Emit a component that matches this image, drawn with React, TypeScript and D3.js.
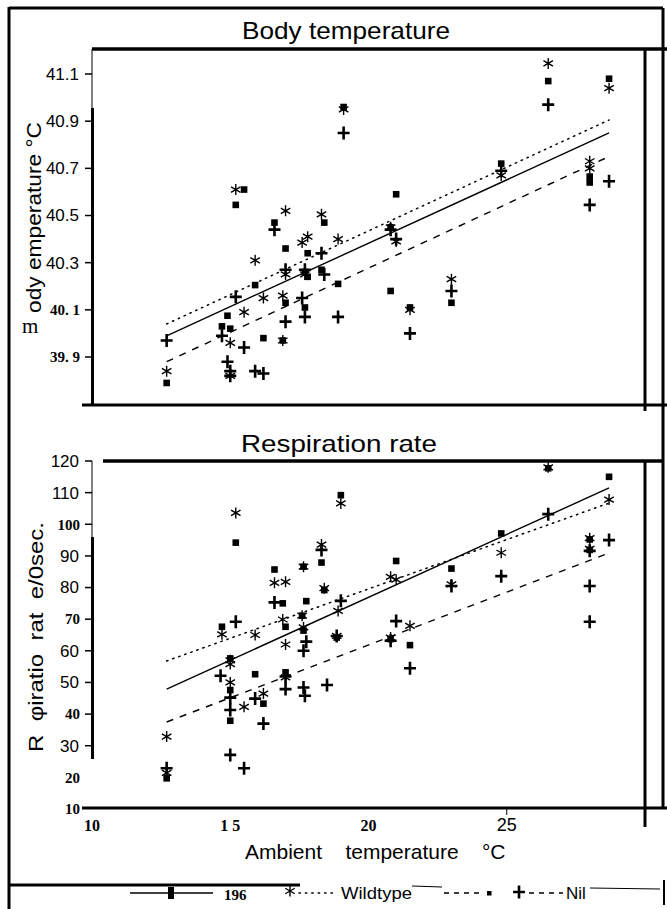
import React from "react";
import * as d3 from "d3";

const seriesNames = ["196", "Wildtype", "Nil"];

// body temperature (°C) against ambient temperature (°C)
const body196 = [
  [12.7, 39.79], [14.9, 40.075], [14.7, 40.03], [15.0, 40.02], [15.2, 40.545], [15.5, 40.61],
  [15.9, 40.205], [16.2, 39.98], [16.6, 40.47], [17.0, 40.36], [17.0, 40.13], [16.9, 39.97],
  [17.8, 40.34], [17.7, 40.26], [17.8, 40.24], [17.7, 40.11], [18.4, 40.47], [18.3, 40.27],
  [19.1, 40.96], [18.9, 40.21], [21.0, 40.59], [20.8, 40.45], [20.8, 40.18], [21.5, 40.11],
  [23.0, 40.13], [24.8, 40.72], [26.5, 41.07], [28.0, 40.665], [28.0, 40.64], [28.7, 41.08],
];
const bodyWildtype = [
  [12.7, 39.84], [15.0, 39.96], [15.0, 39.82], [15.2, 40.61], [15.5, 40.09], [15.9, 40.31],
  [16.2, 40.15], [17.0, 40.52], [17.0, 40.25], [16.9, 40.16], [16.9, 39.97], [17.6, 40.385],
  [17.8, 40.41], [17.7, 40.25], [18.3, 40.505], [18.9, 40.4], [19.1, 40.95], [20.8, 40.45],
  [21.0, 40.39], [21.5, 40.1], [23.0, 40.23], [24.8, 40.67], [26.5, 41.145], [28.0, 40.73],
  [28.0, 40.7], [28.7, 41.04],
];
const bodyNil = [
  [12.7, 39.97], [14.7, 39.99], [14.9, 39.88], [15.0, 39.84], [15.0, 39.82], [15.2, 40.155],
  [15.5, 39.94], [15.9, 39.84], [16.2, 39.83], [16.6, 40.44], [17.0, 40.27], [17.0, 40.05],
  [17.6, 40.15], [17.7, 40.27], [17.7, 40.07], [18.3, 40.34], [18.4, 40.25], [19.1, 40.85],
  [18.9, 40.07], [20.8, 40.44], [21.0, 40.4], [21.5, 40.0], [23.0, 40.18], [24.8, 40.69],
  [26.5, 40.97], [28.0, 40.545], [28.7, 40.645],
];

// respiration rate against ambient temperature
const resp196 = [
  [12.7, 19.7], [14.7, 67.6], [15.2, 94.2], [15.0, 57.6], [15.0, 47.6], [15.0, 37.9],
  [15.9, 52.6], [16.2, 43.3], [16.6, 85.7], [16.9, 75.0], [17.0, 67.6], [17.0, 53.2],
  [17.65, 86.6], [17.75, 75.7], [17.6, 71.1], [17.65, 66.4], [18.3, 87.9], [18.4, 79.2],
  [19.0, 109.2], [18.85, 64.2], [21.0, 88.4], [20.8, 63.7], [21.5, 61.8], [23.0, 86.0],
  [24.8, 97.1], [26.5, 117.7], [28.0, 95.2], [28.0, 91.9], [28.7, 115.0],
];
const respWildtype = [
  [12.7, 32.9], [12.7, 21.4], [14.7, 65.2], [15.2, 103.6], [15.0, 57.0], [15.0, 55.8],
  [15.0, 50.0], [15.5, 42.3], [15.9, 65.0], [16.2, 46.5], [16.6, 81.5], [17.0, 81.8],
  [16.9, 69.9], [17.0, 62.0], [17.0, 51.6], [17.65, 86.6], [17.6, 71.1], [17.65, 67.4],
  [18.3, 93.6], [18.4, 79.8], [19.0, 106.6], [18.9, 72.6], [18.85, 64.7], [20.8, 83.4],
  [21.0, 82.5], [21.5, 67.9], [20.8, 64.2], [23.0, 81.0], [24.8, 91.0], [26.5, 118.0],
  [28.0, 95.6], [28.0, 92.2], [28.7, 107.8],
];
const respNil = [
  [12.7, 22.9], [14.65, 52.1], [15.2, 69.2], [15.0, 45.2], [15.0, 41.3], [15.0, 27.1],
  [15.5, 22.9], [15.9, 44.9], [16.2, 37.0], [16.6, 75.3], [17.0, 51.9], [17.0, 47.9],
  [17.75, 62.9], [17.65, 60.0], [17.65, 48.4], [17.7, 45.8], [18.3, 91.9], [18.5, 49.2],
  [19.0, 75.8], [18.85, 64.7], [21.0, 69.4], [20.8, 63.2], [21.5, 54.5], [23.0, 80.5],
  [24.8, 83.6], [26.5, 103.2], [28.0, 91.6], [28.0, 80.5], [28.0, 69.2], [28.7, 95.0],
];

// fitted lines, end points
const bodyFit196 = [[12.7, 39.99], [28.7, 40.85]];
const bodyFitWildtype = [[12.7, 40.04], [28.7, 40.905]];
const bodyFitNil = [[12.7, 39.88], [28.7, 40.75]];
const respFit196 = [[12.7, 47.9], [28.7, 111.5]];
const respFitWildtype = [[12.7, 56.8], [28.7, 106.7]];
const respFitNil = [[12.7, 37.5], [28.7, 90.9]];

const bodyTicks = [41.1, 40.9, 40.7, 40.5, 40.3, 40.1, 39.9];
const bodyTickLabels = ["41.1", "40.9", "40.7", "40.5", "40.3", "40. 1", "39. 9"];
const respTicks = [120, 110, 100, 90, 80, 70, 60, 50, 40, 30, 20, 10];
const respTickLabels = ["120", "110", "100", "90", "80", "70", "60", "50", "40", "30", "20", "10"];
const xTicks = [10, 15, 20, 25];
const xTickLabels = ["10", "1 5", "20", "25"];

// labels that came out in a bold serif face on the scan
const serifLabels = new Set(["40. 1", "39. 9", "100", "70", "40", "20", "10", "1 5"]);
const noTick = new Set(["20", "10"]);

const SANS = "'Liberation Sans', Arial, sans-serif";
const SERIF = "'Liberation Serif', 'Times New Roman', serif";

const x = d3.scaleLinear().domain([10, 30]).range([92, 645]);
const yBody = d3.scaleLinear().domain([39.9, 41.1]).range([357, 74]);
const yResp = d3.scaleLinear().domain([10, 120]).range([809, 461]);

const lineStyle: Record<string, { dash?: string; width: number }> = {
  "196": { width: 1.4 },
  Wildtype: { dash: "1.4,5", width: 1.5 },
  Nil: { dash: "7,7", width: 1.4 },
};

function Marker({ kind, cx, cy }: { kind: string; cx: number; cy: number }) {
  if (kind === "196") {
    return <rect x={cx - 3.3} y={cy - 3.3} width={6.6} height={6.6} fill="#000" />;
  }
  if (kind === "Nil") {
    return (
      <path
        d={`M${cx - 6},${cy}H${cx + 6}M${cx},${cy - 6.5}V${cy + 6.5}`}
        stroke="#000"
        strokeWidth={2.6}
      />
    );
  }
  const r = 5.5;
  const dx = r * Math.cos(Math.PI / 6);
  const dy = r * Math.sin(Math.PI / 6);
  return (
    <path
      d={`M${cx},${cy - r}V${cy + r}M${cx - dx},${cy - dy}L${cx + dx},${cy + dy}M${cx - dx},${cy + dy}L${cx + dx},${cy - dy}`}
      stroke="#000"
      strokeWidth={1.4}
    />
  );
}

function Panel({
  y,
  series,
  fits,
  ticks,
  tickLabels,
}: {
  y: d3.ScaleLinear<number, number>;
  series: number[][][];
  fits: number[][][];
  ticks: number[];
  tickLabels: string[];
}) {
  const line = d3
    .line<number[]>()
    .x((d) => x(d[0]))
    .y((d) => y(d[1]));
  return (
    <g>
      {fits.map((f, i) => {
        const st = lineStyle[seriesNames[i]];
        return (
          <path
            key={"fit" + i}
            d={line(f) || ""}
            fill="none"
            stroke="#000"
            strokeWidth={st.width}
            strokeDasharray={st.dash}
            strokeLinecap={st.dash && st.dash.startsWith("1.4") ? "round" : "butt"}
          />
        );
      })}
      {series.map((pts, i) =>
        pts.map((p, j) => (
          <Marker key={i + "-" + j} kind={seriesNames[i]} cx={x(p[0])} cy={y(p[1])} />
        ))
      )}
      {ticks.map((t, i) => {
        const lab = tickLabels[i];
        const serif = serifLabels.has(lab);
        return (
          <g key={"t" + i}>
            {!noTick.has(lab) && (
              <line x1={85} x2={92} y1={y(t)} y2={y(t)} stroke="#000" strokeWidth={1.5} />
            )}
            <text
              x={serif ? 80 : 79}
              y={y(t)}
              dy="0.35em"
              textAnchor="end"
              fontFamily={serif ? SERIF : SANS}
              fontWeight={serif ? "bold" : "normal"}
              fontSize={serif ? 15 : 17}
            >
              {lab}
            </text>
          </g>
        );
      })}
    </g>
  );
}

export default function App() {
  const k = "#000";
  return (
    <svg
      width={667}
      height={909}
      style={{ position: "absolute", left: 0, top: 0, background: "#fff" }}
    >
      <rect width={667} height={909} fill="#fff" />

      {/* outer frame */}
      <line x1={9} x2={9} y1={7} y2={909} stroke={k} strokeWidth={3} />
      <line x1={9} x2={663} y1={8} y2={8} stroke={k} strokeWidth={3} />
      <line x1={663} x2={663} y1={8} y2={808} stroke={k} strokeWidth={3} />
      <line x1={664} x2={664} y1={880} y2={905} stroke={k} strokeWidth={2} />

      {/* body temperature frame */}
      <text x={242} y={39} fontFamily={SANS} fontSize={24} textLength={208} lengthAdjust="spacingAndGlyphs">
        Body temperature
      </text>
      <line x1={92} x2={667} y1={49} y2={49} stroke={k} strokeWidth={3.5} />
      <line x1={92} x2={92} y1={49} y2={108} stroke={k} strokeWidth={1} />
      <line x1={92.5} x2={92.5} y1={108} y2={406} stroke={k} strokeWidth={3} />
      <line x1={82} x2={667} y1={405} y2={405} stroke={k} strokeWidth={3} />
      <line x1={645} x2={645} y1={49} y2={411} stroke={k} strokeWidth={3} />
      <Panel
        y={yBody}
        series={[body196, bodyWildtype, bodyNil]}
        fits={[bodyFit196, bodyFitWildtype, bodyFitNil]}
        ticks={bodyTicks}
        tickLabels={bodyTickLabels}
      />
      <text
        transform="translate(41,313) rotate(-90)"
        fontFamily={SANS}
        fontSize={21}
        textLength={191}
        lengthAdjust="spacingAndGlyphs"
      >
        ody emperature °C
      </text>
      <text x={22} y={333} fontFamily={SERIF} fontSize={21}>
        m
      </text>

      {/* respiration rate frame */}
      <text x={241} y={452} fontFamily={SANS} fontSize={24} textLength={196} lengthAdjust="spacingAndGlyphs">
        Respiration rate
      </text>
      <line x1={103} x2={663} y1={461} y2={461} stroke={k} strokeWidth={3.5} />
      <line x1={92} x2={92} y1={461} y2={537} stroke={k} strokeWidth={1} />
      <line x1={92.5} x2={92.5} y1={537} y2={759} stroke={k} strokeWidth={3} />
      <line x1={82} x2={667} y1={808} y2={808} stroke={k} strokeWidth={3} />
      <line x1={645} x2={645} y1={461} y2={827} stroke={k} strokeWidth={3} />
      <Panel
        y={yResp}
        series={[resp196, respWildtype, respNil]}
        fits={[respFit196, respFitWildtype, respFitNil]}
        ticks={respTicks}
        tickLabels={respTickLabels}
      />
      <text
        transform="translate(43,752) rotate(-90)"
        fontFamily={SANS}
        fontSize={21}
        textLength={230}
        lengthAdjust="spacingAndGlyphs"
        style={{ whiteSpace: "pre" }}
      >
        {"R  φiratio  rat  e/0sec."}
      </text>

      {/* x axis */}
      {xTicks.map((t, i) => {
        const lab = xTickLabels[i];
        const serif = serifLabels.has(lab);
        return (
          <text
            key={"x" + i}
            x={x(t)}
            y={831}
            textAnchor="middle"
            fontFamily={serif ? SERIF : SANS}
            fontWeight={serif ? "bold" : "normal"}
            fontSize={serif ? 16 : 18}
          >
            {lab}
          </text>
        );
      })}
      <line x1={x(25)} x2={x(25)} y1={808} y2={815} stroke={k} strokeWidth={1} />
      <text x={245} y={859} fontFamily={SANS} fontSize={21} style={{ whiteSpace: "pre" }}>
        {"Ambient    temperature    °C"}
      </text>

      {/* legend */}
      <line x1={9} x2={300} y1={885} y2={885} stroke={k} strokeWidth={3} />
      <line x1={130} x2={213} y1={893} y2={893} stroke={k} strokeWidth={1.6} />
      <rect x={168} y={887} width={6} height={12} fill={k} />
      <text x={224} y={900} fontFamily={SERIF} fontWeight="bold" fontSize={15}>
        196
      </text>
      <Marker kind="Wildtype" cx={290} cy={891} />
      <line x1={299} x2={337} y1={893} y2={893} stroke={k} strokeWidth={1.5} strokeDasharray="1.4,5" strokeLinecap="round" />
      <text x={341} y={899} fontFamily={SANS} fontSize={17} textLength={71} lengthAdjust="spacingAndGlyphs">
        Wildtype
      </text>
      <line x1={412} x2={442} y1={886} y2={887} stroke={k} strokeWidth={1} />
      <line x1={444} x2={480} y1={893} y2={893} stroke={k} strokeWidth={1.4} strokeDasharray="5,5" />
      <rect x={487} y={891} width={4.5} height={4.5} fill={k} />
      <Marker kind="Nil" cx={519} cy={892} />
      <line x1={529} x2={563} y1={893} y2={893} stroke={k} strokeWidth={1.4} strokeDasharray="5,5" />
      <text x={566} y={899} fontFamily={SANS} fontSize={17}>
        Nil
      </text>
      <line x1={590} x2={660} y1={888} y2={889} stroke={k} strokeWidth={1.2} />
    </svg>
  );
}
